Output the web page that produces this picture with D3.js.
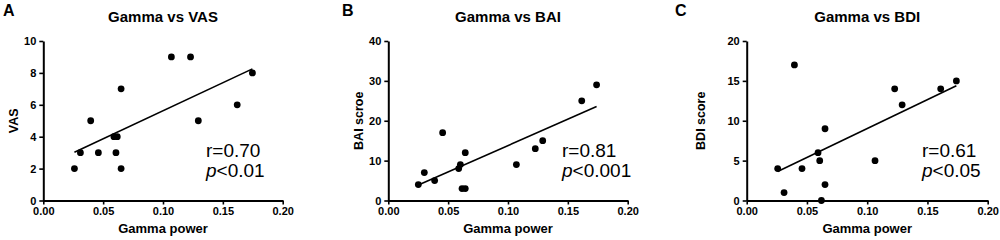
<!DOCTYPE html>
<html><head><meta charset="utf-8">
<script src="https://cdn.jsdelivr.net/npm/d3@7"></script>
<style>
body{margin:0;background:#fff}
svg{display:block}
text{font-family:Arial,"Liberation Sans",sans-serif;fill:#000}
</style>
</head><body>
<svg id="chart" width="1000" height="240"></svg>
<script>
// ---- data ----
const gammaA = [0.026, 0.031, 0.0396, 0.046, 0.059, 0.0618, 0.0607, 0.065, 0.065, 0.107, 0.123, 0.1295, 0.162, 0.1747];
const vas    = [2, 3, 5, 3, 4, 4, 3, 7, 2, 9, 9, 5, 6, 8];

const gammaB = [0.0251, 0.0301, 0.0387, 0.0454, 0.0588, 0.0602, 0.0616, 0.0643, 0.0643, 0.107, 0.1228, 0.129, 0.1616, 0.174];
const bai    = [4, 7, 5, 17, 8, 9, 3, 3, 12, 9, 13, 15, 25, 29];

const gammaC = [0.0257, 0.031, 0.0396, 0.0459, 0.0592, 0.0606, 0.062, 0.065, 0.065, 0.1065, 0.1228, 0.129, 0.161, 0.174];
const bdi    = [4, 1, 17, 4, 6, 5, 0, 9, 2, 5, 14, 12, 14, 15];

const xTickValues = [0, 0.05, 0.10, 0.15, 0.20];
const vasTicks = [0, 2, 4, 6, 8, 10];
const baiTicks = [0, 10, 20, 30, 40];
const bdiTicks = [0, 5, 10, 15, 20];

const panelLetters = ["A", "B", "C"];
const panelTitles  = ["Gamma vs VAS", "Gamma vs BAI", "Gamma vs BDI"];
const yLabels      = ["VAS", "BAI scroe", "BDI score"];
const xLabel       = "Gamma power";
const rTexts       = ["r=0.70", "r=0.81", "r=0.61"];
const pTexts       = ["<0.01", "<0.001", "<0.05"];

const xs = [gammaA, gammaB, gammaC];
const ys = [vas, bai, bdi];
const yTickSets = [vasTicks, baiTicks, bdiTicks];

// ---- layout (styling) ----
const layout = [
  {x0: 43.3,  x1: 282.7, letterX: 3,   yLabX: 13,  noteX: 206},
  {x0: 388.3, x1: 627.7, letterX: 342, yLabX: 358.3, noteX: 562},
  {x0: 746.7, x1: 987.7, letterX: 675, yLabX: 700, noteX: 922}
];
const yBottom = 200.5, yTop = 41;

const svg = d3.select("#chart");

layout.forEach((L, i) => {
  const xdat = xs[i], ydat = ys[i], yt = yTickSets[i];
  const x = d3.scaleLinear().domain([0, 0.2]).range([L.x0, L.x1]);
  const y = d3.scaleLinear().domain([0, d3.max(yt)]).range([yBottom, yTop]);
  const g = svg.append("g");

  // axes
  const xAxis = d3.axisBottom(x).tickValues(xTickValues).tickFormat(d3.format(".2f"))
    .tickSize(4).tickSizeOuter(0).tickPadding(3);
  const yAxis = d3.axisLeft(y).tickValues(yt).tickFormat(d3.format("d"))
    .tickSize(4).tickSizeOuter(0).tickPadding(3);

  const gx = g.append("g").attr("transform", `translate(0,${yBottom})`).call(xAxis);
  const gy = g.append("g").attr("transform", `translate(${L.x0},0)`).call(yAxis);
  [gx, gy].forEach(a => {
    a.select(".domain").attr("stroke", "#000").attr("stroke-width", 2);
    a.selectAll(".tick line").attr("stroke", "#000").attr("stroke-width", 1.6);
    a.selectAll(".tick text").attr("font-size", 11).attr("font-weight", "bold")
      .attr("font-family", 'Arial,"Liberation Sans",sans-serif').attr("fill", "#000");
  });

  // regression line (least squares from the data)
  const mx = d3.mean(xdat), my = d3.mean(ydat);
  let sxy = 0, sxx = 0;
  xdat.forEach((v, k) => { sxy += (v - mx) * (ydat[k] - my); sxx += (v - mx) * (v - mx); });
  const slope = sxy / sxx, icpt = my - slope * mx;
  const [xmin, xmax] = d3.extent(xdat);
  g.append("line")
    .attr("x1", x(xmin)).attr("y1", y(icpt + slope * xmin))
    .attr("x2", x(xmax)).attr("y2", y(icpt + slope * xmax))
    .attr("stroke", "#000").attr("stroke-width", 1.6);

  // points
  g.selectAll("circle.pt").data(xdat.map((v, k) => [v, ydat[k]])).enter()
    .append("circle").attr("class", "pt")
    .attr("cx", d => x(d[0])).attr("cy", d => y(d[1])).attr("r", 3.4)
    .attr("fill", "#000");

  // texts
  const cx = (L.x0 + L.x1) / 2;
  g.append("text").attr("x", L.letterX).attr("y", 15.5).attr("font-size", 16)
    .attr("font-weight", "bold").text(panelLetters[i]);
  g.append("text").attr("x", cx).attr("y", 21.5).attr("text-anchor", "middle")
    .attr("font-size", 15).attr("font-weight", "bold").text(panelTitles[i]);
  g.append("text").attr("x", cx).attr("y", 233).attr("text-anchor", "middle")
    .attr("font-size", 13).attr("font-weight", "bold").text(xLabel);
  g.append("text").attr("transform", `translate(${L.yLabX + 4.5},${(yTop + yBottom) / 2}) rotate(-90)`)
    .attr("text-anchor", "middle").attr("font-size", 12.5).attr("font-weight", "bold").text(yLabels[i]);

  g.append("text").attr("x", L.noteX).attr("y", 157).attr("font-size", 19).text(rTexts[i]);
  const pt = g.append("text").attr("x", L.noteX).attr("y", 177).attr("font-size", 19);
  pt.append("tspan").attr("font-style", "italic").text("p");
  pt.append("tspan").text(pTexts[i]);
});
</script>
</body></html>
